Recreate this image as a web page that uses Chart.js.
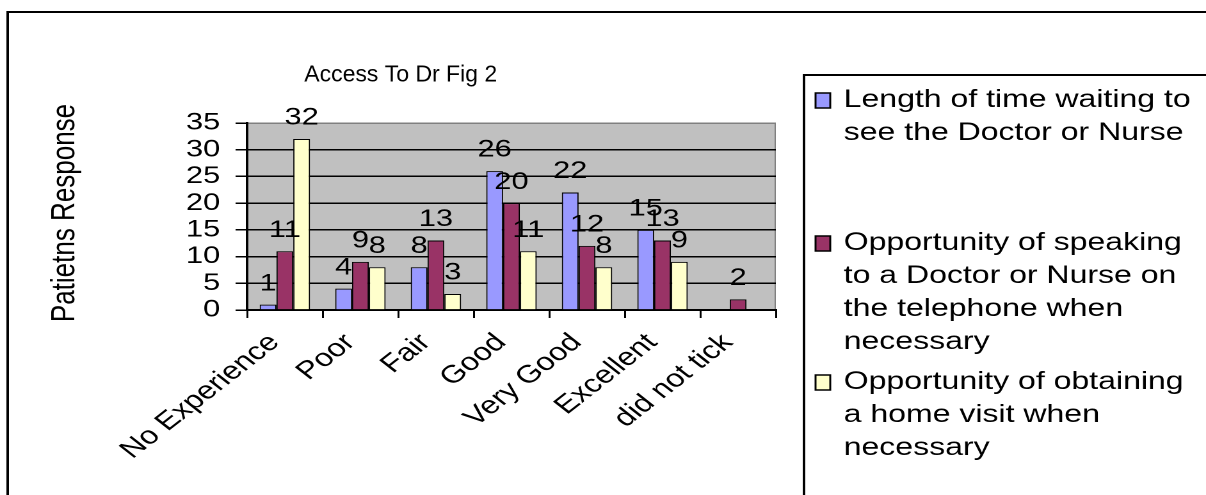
<!DOCTYPE html>
<html>
<head>
<meta charset="utf-8">
<title>Access To Dr Fig 2</title>
<script src="https://cdn.jsdelivr.net/npm/chart.js@4"></script>
<style>
  html, body { margin: 0; padding: 0; background: #fff; }
  #wrap { width: 1206px; height: 495px; overflow: hidden; position: relative; }
  /* el grafico original esta estirado en horizontal */
  #accessChart { position: absolute; left: 0; top: 0; transform-origin: 0 0; }
</style>
</head>
<body>
<div id="wrap"><canvas id="accessChart" width="942" height="495"></canvas></div>
<script>
// categorias y valores
const categories = ['No Experience', 'Poor', 'Fair', 'Good', 'Very Good', 'Excellent', 'did not tick'];
const waitingTime = [1, 4, 8, 26, 22, 15, 0];
const phoneAccess = [11, 9, 13, 20, 12, 13, 2];
const homeVisit = [32, 8, 3, 11, 8, 9, 0];
const seriesNames = [
  'Length of time waiting to see the Doctor or Nurse',
  'Opportunity of speaking to a Doctor or Nurse on the telephone when necessary',
  'Opportunity of obtaining a home visit when necessary'
];
const seriesColors = ['#9999FF', '#993366', '#FFFFCC'];
const chartTitle = 'Access To Dr Fig 2';
const yTitle = 'Patietns Response';
const yMax = 35;
const yStep = 5;

const FONT = 'Arial, "Liberation Sans", sans-serif';
const STRETCH = 1206 / 942;
document.getElementById('accessChart').style.transform = `scaleX(${STRETCH})`;

// cortar el texto de la leyenda en lineas
function wrapText(ctx, text, maxWidth) {
  const words = text.split(' ');
  const lines = [];
  let line = '';
  words.forEach(w => {
    const test = line ? line + ' ' + w : w;
    if (ctx.measureText(test).width > maxWidth && line) {
      lines.push(line);
      line = w;
    } else {
      line = test;
    }
  });
  if (line) lines.push(line);
  return lines;
}

const excelLook = {
  id: 'excelLook',
  beforeDraw(chart) {
    const { ctx, chartArea: a } = chart;
    ctx.save();
    ctx.fillStyle = '#C0C0C0';
    ctx.fillRect(a.left, a.top, a.right - a.left, a.bottom - a.top);
    ctx.strokeStyle = '#808080';
    ctx.lineWidth = 1;
    ctx.strokeRect(a.left, a.top + 0.5, a.right - a.left - 0.5, a.bottom - a.top);
    ctx.restore();
  },
  afterDatasetsDraw(chart) {
    const { ctx } = chart;
    ctx.save();
    ctx.font = '24px ' + FONT;
    ctx.fillStyle = '#000';
    ctx.textAlign = 'center';
    ctx.textBaseline = 'middle';
    chart.data.datasets.forEach((ds, i) => {
      chart.getDatasetMeta(i).data.forEach((bar, j) => {
        const v = ds.data[j];
        if (!v) return;
        ctx.fillText(String(v), bar.x, bar.y - 21);
      });
    });
    ctx.restore();
  },
  afterDraw(chart) {
    const { ctx } = chart;
    ctx.save();
    // marco exterior
    ctx.strokeStyle = '#000';
    ctx.lineWidth = 2;
    ctx.strokeRect(6, 12, 960, 500);
    // titulo (sin estirar)
    ctx.fillStyle = '#000';
    ctx.textAlign = 'center';
    ctx.textBaseline = 'middle';
    ctx.save();
    ctx.translate(313, 75);
    ctx.scale(1 / STRETCH, 1);
    ctx.font = '23px ' + FONT;
    ctx.fillText(chartTitle, 0, 0);
    ctx.restore();
    // titulo eje y
    ctx.save();
    ctx.translate(51, 213);
    ctx.rotate(-Math.PI / 2);
    ctx.font = '26px ' + FONT;
    ctx.fillText(yTitle, 0, 0);
    ctx.restore();
    // leyenda
    ctx.lineWidth = 2;
    ctx.strokeRect(628, 75, 340, 440);
    ctx.font = '25px ' + FONT;
    ctx.textAlign = 'left';
    const itemY = [100, 243, 382];
    seriesNames.forEach((name, i) => {
      const lines = wrapText(ctx, name, 282);
      ctx.fillStyle = seriesColors[i];
      ctx.fillRect(637, itemY[i] - 7, 11.5, 15);
      ctx.strokeStyle = '#000';
      ctx.lineWidth = 1.5;
      ctx.strokeRect(637, itemY[i] - 7, 11.5, 15);
      ctx.fillStyle = '#000';
      lines.forEach((ln, k) => ctx.fillText(ln, 659, itemY[i] + k * 33));
    });
    ctx.restore();
  }
};

const ctx = document.getElementById('accessChart').getContext('2d');
new Chart(ctx, {
  type: 'bar',
  data: {
    labels: categories,
    datasets: [waitingTime, phoneAccess, homeVisit].map((vals, i) => ({
      label: seriesNames[i],
      data: vals,
      backgroundColor: seriesColors[i],
      borderColor: '#000',
      borderWidth: 1,
      categoryPercentage: 0.667,
      barPercentage: 1
    }))
  },
  options: {
    responsive: false,
    animation: false,
    devicePixelRatio: 2,
    layout: { padding: { left: 113, top: 123, right: 336, bottom: 0 } },
    plugins: {
      legend: { display: false },
      title: { display: false },
      tooltip: { enabled: false }
    },
    scales: {
      x: {
        afterFit(scale) { scale.height = 185; },
        grid: { offset: true, drawOnChartArea: false, color: '#000', tickLength: 8, lineWidth: 1.5 },
        border: { color: '#000', width: 2 },
        ticks: {
          color: '#000',
          font: { family: FONT, size: 25 },
          minRotation: 45,
          maxRotation: 45,
          autoSkip: false,
          labelOffset: -8,
          padding: 10
        }
      },
      y: {
        min: 0,
        max: yMax,
        afterFit(scale) { scale.width = 80; },
        grid: {
          color: c => (c.tick && c.tick.value === yMax ? '#808080' : '#000'),
          tickColor: '#000',
          tickLength: 9,
          lineWidth: 1.5
        },
        border: { color: '#000', width: 2 },
        ticks: {
          stepSize: yStep,
          autoSkip: false,
          color: '#000',
          font: { family: FONT, size: 24 },
          padding: 12
        }
      }
    }
  },
  plugins: [excelLook]
});
</script>
</body>
</html>
